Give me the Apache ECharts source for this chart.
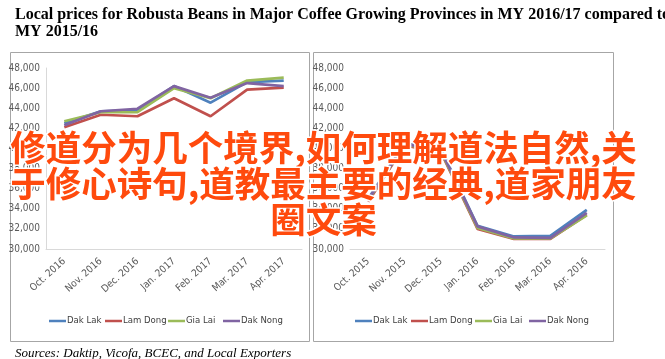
<!DOCTYPE html>
<html><head><meta charset="utf-8">
<script src="https://cdn.jsdelivr.net/npm/echarts@6/dist/echarts.min.js"></script>
<style>html,body{margin:0;padding:0;background:#fff}#c{width:665px;height:359px}</style>
</head><body><div id="c"></div>
<script>
const seriesNames = ['Dak Lak', 'Lam Dong', 'Gia Lai', 'Dak Nong'];
const colors = ['#4F81BD', '#C0504D', '#9BBB59', '#8064A2'];
const cats1617 = ['Oct. 2016', 'Nov. 2016', 'Dec. 2016', 'Jan. 2017', 'Feb. 2017', 'Mar. 2017', 'Apr. 2017'];
const cats1516 = ['Oct. 2015', 'Nov. 2015', 'Dec. 2015', 'Jan. 2016', 'Feb. 2016', 'Mar. 2016', 'Apr. 2016'];
const dakLak1617  = [42500, 43700, 43800, 46200, 44550, 46600, 46750];
const lamDong1617 = [42100, 43350, 43200, 45000, 43200, 45850, 46050];
const giaLai1617  = [42700, 43600, 43600, 46000, 45000, 46750, 47050];
const dakNong1617 = [42300, 43700, 43950, 46200, 45050, 46500, 46200];
const dakLak1516  = [35000, 40500, 39900, 32300, 31250, 31300, 33900];
const lamDong1516 = [34700, 40300, 39600, 32000, 31000, 31000, 33400];
const giaLai1516  = [34850, 40400, 39700, 32100, 31050, 31050, 33350];
const dakNong1516 = [34900, 40450, 39800, 32250, 31150, 31100, 33600];
const yTicks = [30000, 32000, 34000, 36000, 38000, 40000, 42000, 44000, 46000, 48000];
const titleLines = ['Local prices for Robusta Beans in Major Coffee Growing Provinces in MY 2016/17 compared to', 'MY 2015/16'];
const sourceText = 'Sources: Daktip, Vicofa, BCEC, and Local Exporters';
const overlayLines = ['修道分为几个境界,如何理解道法自然,关', '于修心诗句,道教最主要的经典,道家朋友', '圈文案'];

const narrow = "'Liberation Sans Narrow','DejaVu Sans Condensed',sans-serif";
const chart = echarts.init(document.getElementById('c'), null, {renderer: 'canvas'});

function yAxis(idx, showLine) {
  return {
    type: 'value', gridIndex: idx, min: yTicks[0], max: yTicks[yTicks.length - 1], interval: 2000,
    axisLine: {show: showLine, lineStyle: {color: '#d9d9d9', width: 1}},
    axisTick: {show: false}, splitLine: {show: false},
    axisLabel: {margin: 6, color: '#595959', fontFamily: narrow, fontSize: 10,
      formatter: v => v.toLocaleString('en-US')}
  };
}
function xAxis(idx, cats) {
  return {
    type: 'category', gridIndex: idx, data: cats, boundaryGap: true,
    axisLine: {show: true, lineStyle: {color: '#d9d9d9', width: 1}},
    axisTick: {show: false},
    axisLabel: {rotate: 42, margin: 11, color: '#595959', fontFamily: narrow, fontSize: 10, interval: 0}
  };
}
const data1617 = [dakLak1617, lamDong1617, giaLai1617, dakNong1617];
const data1516 = [dakLak1516, lamDong1516, giaLai1516, dakNong1516];
const series = [];
[data1617, data1516].forEach((set, g) => {
  set.forEach((d, i) => {
    series.push({
      name: seriesNames[i], type: 'line', xAxisIndex: g, yAxisIndex: g, data: d,
      symbol: 'none', lineStyle: {width: 2.7, color: colors[i]}, itemStyle: {color: colors[i]}, z: 2 + i
    });
  });
});
const legendLeft = [[49, 105, 168, 223], [355, 411, 475, 529]];
const legends = [];
legendLeft.forEach(row => row.forEach((x, i) => {
  legends.push({
    data: [seriesNames[i]], left: x, top: 316, padding: 0,
    icon: 'rect', itemWidth: 17, itemHeight: 2.5,
    textStyle: {fontFamily: narrow, fontSize: 9.5, color: '#404040', padding: [0, 0, 0, -4]},
    selectedMode: false
  });
}));
chart.setOption({
  animation: false,
  color: colors,
  title: [
    {text: titleLines.join('\n'), left: 10, top: 1,
      textStyle: {fontFamily: "'Liberation Serif','Times New Roman',serif", fontWeight: 'bold', fontSize: 16, color: '#000', lineHeight: 17}},
    {text: sourceText, left: 10, top: 342,
      textStyle: {fontFamily: "'Liberation Serif','Times New Roman',serif", fontStyle: 'italic', fontWeight: 'normal', fontSize: 13, color: '#000'}}
  ],
  grid: [
    {left: 46, top: 68, width: 256, height: 181},
    {left: 350, top: 68, width: 255, height: 181}
  ],
  xAxis: [xAxis(0, cats1617), xAxis(1, cats1516)],
  yAxis: [yAxis(0, true), yAxis(1, false)],
  legend: legends,
  series: series,
  graphic: [
    {type: 'rect', shape: {x: 10.5, y: 52.5, width: 299, height: 289}, style: {fill: 'none', stroke: '#a6a6a6', lineWidth: 1}, z: 0},
    {type: 'rect', shape: {x: 313.5, y: 52.5, width: 300, height: 289}, style: {fill: 'none', stroke: '#a6a6a6', lineWidth: 1}, z: 0},
    {type: 'text', x: 323.5, y: 130, z: 100, zlevel: 1,
      style: {text: overlayLines.join('\n'), textAlign: 'center',
        font: "bold 35.5px 'Noto Sans CJK SC', sans-serif", lineHeight: 36,
        fill: '#ff4a0d', stroke: '#ffffff', lineWidth: 3}}
  ]
});
</script></body></html>
